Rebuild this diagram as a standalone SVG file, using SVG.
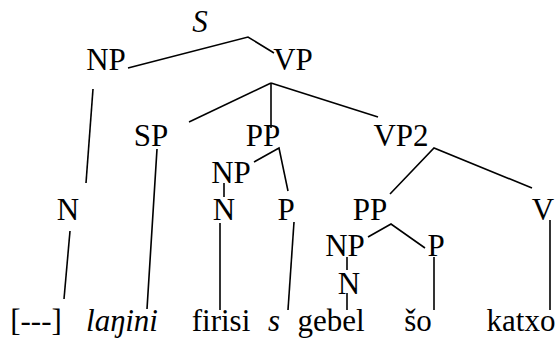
<svg xmlns="http://www.w3.org/2000/svg" width="560" height="341" viewBox="0 0 560 341">
  <style>
    text { font-family: "Liberation Serif", "Times New Roman", serif; font-size: 31px; fill: #000; text-anchor: middle; }
    .it { font-style: italic; }
    .edge { stroke: #000; stroke-width: 1.6; fill: none; stroke-linecap: butt; }
  </style>
  <rect width="560" height="341" fill="#fff"/>

  <!-- tree branches -->
  <g id="connectors">
    <polyline class="edge" points="128,68 248,37 274,53"/>
    <line class="edge" x1="93" y1="89" x2="86" y2="183"/>
    <line class="edge" x1="70" y1="231" x2="64" y2="299"/>
    <line class="edge" x1="271" y1="83" x2="189" y2="122"/>
    <line class="edge" x1="271" y1="83" x2="271" y2="128"/>
    <line class="edge" x1="271" y1="83" x2="378" y2="117"/>
    <line class="edge" x1="157" y1="149" x2="147" y2="309"/>
    <polyline class="edge" points="254,162 279,148 288,191"/>
    <line class="edge" x1="224" y1="183" x2="224" y2="197"/>
    <line class="edge" x1="220" y1="223" x2="220" y2="310"/>
    <line class="edge" x1="294" y1="222" x2="288" y2="310"/>
    <polyline class="edge" points="390,194 434,148 532,188"/>
    <polyline class="edge" points="368,237 391,224 425,248"/>
    <line class="edge" x1="347" y1="257" x2="347" y2="270"/>
    <line class="edge" x1="347" y1="293" x2="347" y2="310"/>
    <line class="edge" x1="434" y1="257" x2="434" y2="310"/>
    <line class="edge" x1="550" y1="220" x2="550" y2="310"/>
  </g>

  <!-- category labels -->
  <g id="S"><text class="it" x="200" y="32">S</text></g>
  <g id="NP"><text x="106" y="70">NP</text></g>
  <g id="VP"><text x="293" y="70">VP</text></g>
  <g id="SP"><text x="151" y="146">SP</text></g>
  <g id="PP"><text x="263" y="146">PP</text></g>
  <g id="VP2"><text x="401" y="146">VP2</text></g>
  <g id="NP-pp"><text x="231" y="183">NP</text></g>
  <g id="N-left"><text x="68" y="220">N</text></g>
  <g id="N-pp"><text x="224" y="220">N</text></g>
  <g id="P-pp"><text x="286" y="220">P</text></g>
  <g id="PP2"><text x="370" y="220">PP</text></g>
  <g id="V"><text x="543" y="220">V</text></g>
  <g id="NP-pp2"><text x="345" y="256">NP</text></g>
  <g id="P-pp2"><text x="436" y="256">P</text></g>
  <g id="N-pp2"><text x="349" y="294">N</text></g>

  <!-- words -->
  <g id="w1"><text x="36" y="331">[---]</text></g>
  <g id="w2"><text class="it" x="122" y="331">laŋini</text></g>
  <g id="w3"><text x="221" y="331">firisi</text></g>
  <g id="w4"><text class="it" x="274" y="331">s</text></g>
  <g id="w5"><text x="331" y="331">gebel</text></g>
  <g id="w6"><text x="418" y="331">šo</text></g>
  <g id="w7"><text x="521" y="331">katxo</text></g>
</svg>
